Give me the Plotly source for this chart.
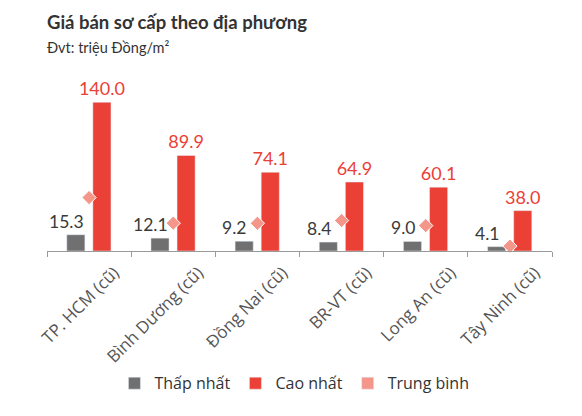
import plotly.graph_objects as go

categories = ["TP. HCM (cũ)", "Bình Dương (cũ)", "Đồng Nai (cũ)", "BR-VT (cũ)", "Long An (cũ)", "Tây Ninh (cũ)"]
thap_nhat = [15.3, 12.1, 9.2, 8.4, 9.0, 4.1]
cao_nhat = [140.0, 89.9, 74.1, 64.9, 60.1, 38.0]
trung_binh = [50.3, 26.2, 26.1, 28.7, 23.9, 4.6]

GRAY = "#707070"
RED = "#EB4036"
SALMON = "#F4968A"
NUM_FONT = "Lato"
TXT_FONT = "Open Sans"

fig = go.Figure()
fig.add_trace(go.Bar(
    x=categories, y=thap_nhat, name="Thấp nhất",
    marker=dict(color=GRAY), width=0.215, offset=-0.265, hoverinfo="x+y",
))
fig.add_trace(go.Bar(
    x=categories, y=cao_nhat, name="Cao nhất",
    marker=dict(color=RED), width=0.215, offset=0.045,
    text=[f"{v:.1f}" for v in cao_nhat], textposition="outside", constraintext="none",
    textfont=dict(color=RED, size=18, family=NUM_FONT), cliponaxis=False,
))
# legend-only square for the average series
fig.add_trace(go.Bar(
    x=categories, y=[None] * len(categories), name="Trung bình",
    marker=dict(color=SALMON), width=0.2, offset=0, legendgroup="tb",
    hoverinfo="skip",
))
fig.add_trace(go.Scatter(
    x=categories, y=trung_binh, name="Trung bình", mode="markers",
    marker=dict(symbol="diamond", size=11, color=SALMON, line=dict(color="white", width=1)),
    showlegend=False, legendgroup="tb", cliponaxis=False,
))

annotations = [
    dict(x=c, y=v, xref="x", yref="y", text=f"{v:.1f}", showarrow=False,
         xanchor="center", yanchor="bottom", xshift=-23, yshift=1,
         font=dict(size=17.5, color="#3a3a3a", family=NUM_FONT))
    for c, v in zip(categories, thap_nhat)
]
annotations += [
    dict(text="<b>Giá bán sơ cấp theo địa phương</b>", xref="paper", yref="paper",
         x=-2 / 505, xanchor="left", y=1, yanchor="middle", yshift=59,
         showarrow=False, font=dict(size=18.5, color="#333333", family=NUM_FONT)),
    dict(text="Đvt: triệu Đồng/m²", xref="paper", yref="paper",
         x=-2 / 505, xanchor="left", y=1, yanchor="middle", yshift=34,
         showarrow=False, font=dict(size=14.5, color="#333333", family=NUM_FONT)),
]

# page body has an 8px margin, so the figure is drawn 8px smaller and shifted
fig.update_layout(
    width=574, height=408,
    margin=dict(l=39, r=30, t=73, b=165, autoexpand=False),
    paper_bgcolor="white", plot_bgcolor="white",
    barmode="overlay",
    font=dict(family=TXT_FONT, color="#333333"),
    showlegend=True,
    legend=dict(orientation="h", x=0.49, xanchor="center", y=-0.778, yanchor="middle",
                font=dict(size=16, color="#333333", family=TXT_FONT), traceorder="normal",
                itemwidth=30),
    xaxis=dict(
        range=[-0.5, 5.5], automargin=False,
        showline=True, linecolor="#9a9a9a", linewidth=1,
        ticks="outside", tickson="boundaries", ticklen=5, tickcolor="#9a9a9a",
        tickangle=-45, tickfont=dict(size=17, color="#555555", family=TXT_FONT),
        ticklabelshift=25, ticklabelstandoff=4,
        showgrid=False,
    ),
    yaxis=dict(range=[0, 160], visible=False, showgrid=False, automargin=False),
    annotations=annotations,
)

fig.write_html("out.html")
